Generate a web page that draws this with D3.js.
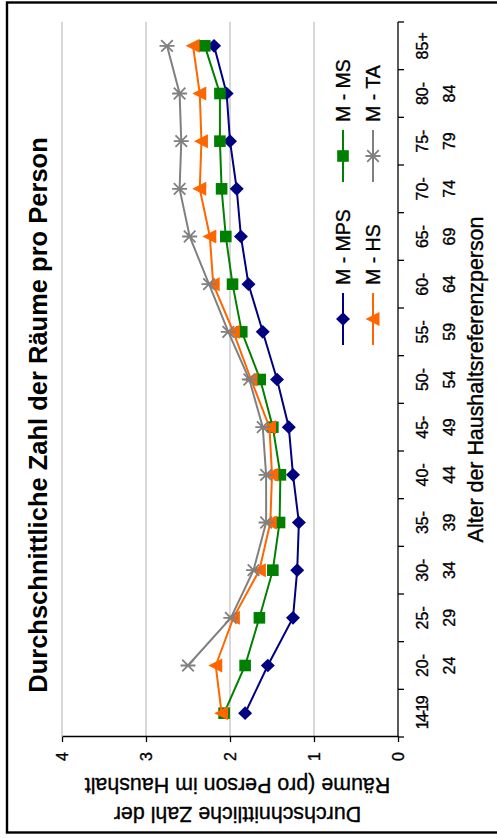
<!DOCTYPE html>
<html>
<head>
<meta charset="utf-8">
<script src="https://cdn.jsdelivr.net/npm/d3@7/dist/d3.min.js"></script>
<style>
  html, body { margin: 0; padding: 0; background: #fff; }
  svg { display: block; }
  text { font-family: Arial, "Liberation Sans", sans-serif; fill: #000; }
  .heavy { stroke: #000; stroke-width: 0.35px; }
</style>
</head>
<body>
<script>
// Age groups of the household reference person (two-line tick labels)
const categories = ["14-19", "20-24", "25-29", "30-34", "35-39", "40-44", "45-49",
                    "50-54", "55-59", "60-64", "65-69", "70-74", "75-79", "80-84", "85+"];
const categoryLabels = [["14-19"], ["20-", "24"], ["25-", "29"], ["30-", "34"], ["35-", "39"],
                        ["40-", "44"], ["45-", "49"], ["50-", "54"], ["55-", "59"], ["60-", "64"],
                        ["65-", "69"], ["70-", "74"], ["75-", "79"], ["80-", "84"], ["85+"]];

// Average number of rooms per person in the household
const seriesNames = ["M - MPS", "M - MS", "M - HS", "M - TA"];
const valuesMPS = [1.82, 1.55, 1.25, 1.20, 1.18, 1.25, 1.30, 1.44, 1.61, 1.78, 1.87, 1.92, 2.00, 2.04, 2.19];
const valuesMS  = [2.07, 1.82, 1.65, 1.49, 1.41, 1.40, 1.49, 1.64, 1.86, 1.97, 2.05, 2.10, 2.12, 2.12, 2.30];
const valuesHS  = [2.10, 2.17, 1.96, 1.65, 1.52, 1.50, 1.53, 1.75, 1.96, 2.20, 2.24, 2.36, 2.34, 2.36, 2.44];
const valuesTA  = [null, 2.50, 1.99, 1.72, 1.57, 1.57, 1.61, 1.77, 2.02, 2.25, 2.48, 2.60, 2.58, 2.60, 2.75];

const valueTicks = [0, 1, 2, 3, 4];

const seriesStyle = [
  { values: valuesMPS, color: "#000080", marker: "diamond" },
  { values: valuesMS,  color: "#008000", marker: "square" },
  { values: valuesHS,  color: "#FF6600", marker: "triangle" },
  { values: valuesTA,  color: "#808080", marker: "star" }
];

const W = 497, H = 838;
// The chart is laid out landscape (H wide, W tall) and turned a quarter turn counter-clockwise.

const svg = d3.select("body").append("svg")
  .attr("width", W).attr("height", H);

const g = svg.append("g").attr("transform", `translate(0,${H}) rotate(-90)`);

// outer frame
g.append("rect")
  .attr("x", 5.5).attr("y", 7).attr("width", 830).attr("height", 520)
  .attr("fill", "none").attr("stroke", "#000").attr("stroke-width", 2.4);

const plot = { left: 101, right: 816, top: 62, bottom: 398 };

const x = d3.scaleBand().domain(categories).range([plot.left, plot.right]);
const y = d3.scaleLinear().domain([0, 4]).range([plot.bottom, plot.top]);

// horizontal gridlines
g.append("g").selectAll("line")
  .data(valueTicks.filter(v => v > 0))
  .join("line")
  .attr("x1", plot.left).attr("x2", plot.right)
  .attr("y1", d => y(d)).attr("y2", d => y(d))
  .attr("stroke", "#b8b8b8").attr("stroke-width", 1.1);

// value axis
const yAxis = d3.axisLeft(y).tickValues(valueTicks).tickSize(5).tickSizeOuter(0).tickPadding(10)
  .tickFormat(d3.format("d"));
const yG = g.append("g").attr("transform", `translate(${plot.left},0)`).call(yAxis);
yG.attr("font-size", null).attr("font-family", null);
yG.select(".domain").attr("stroke", "#000").attr("stroke-width", 1.3);
yG.selectAll(".tick line").attr("stroke", "#000").attr("stroke-width", 1.3);
yG.selectAll(".tick text").attr("class", "heavy").style("font-size", "16px").attr("fill", "#000");

// category axis
const xG = g.append("g").attr("transform", `translate(0,${plot.bottom})`);
xG.append("line").attr("x1", plot.left).attr("x2", plot.right)
  .attr("stroke", "#000").attr("stroke-width", 1.3);
const boundaries = categories.map(c => x(c)).concat([x.range()[1]]);
xG.selectAll("line.tk").data(boundaries).join("line").attr("class", "tk")
  .attr("x1", d => d).attr("x2", d => d).attr("y1", 0).attr("y2", 6)
  .attr("stroke", "#000").attr("stroke-width", 1.3);
const lbl = xG.selectAll("text.cat").data(categories).join("text").attr("class", "cat heavy")
  .attr("text-anchor", "middle").style("font-size", "16px")
  .attr("transform", d => `translate(${x(d) + x.bandwidth() / 2},0)`);
lbl.each(function (d, i) {
  const t = d3.select(this);
  categoryLabels[i].forEach((s, j) => {
    const ts = t.append("tspan").attr("x", 0).attr("y", 30 + j * 27).text(s);
    if (s === "14-19") ts.attr("letter-spacing", -1.8);
  });
});

// axis titles
g.append("text").attr("class", "heavy").attr("x", (plot.left + plot.right) / 2).attr("y", 483)
  .attr("text-anchor", "middle").style("font-size", "21.4px")
  .text("Alter der Haushaltsreferenzperson");

const yt = g.append("text").attr("class", "heavy").attr("transform", "translate(0,237.5) rotate(-90)")
  .attr("text-anchor", "middle").style("font-size", "21.4px");
yt.append("tspan").attr("x", 0).attr("y", 31).text("Durchschnittliche Zahl der");
yt.append("tspan").attr("x", 0).attr("y", 60).text("Räume (pro Person im Haushalt");

// chart title
g.append("text").attr("x", 423).attr("y", 47)
  .attr("text-anchor", "middle").style("font-size", "25.5px").attr("font-weight", "bold")
  .text("Durchschnittliche Zahl der Räume pro Person");

// marker drawing
function drawMarker(sel, type, color) {
  if (type === "diamond") {
    sel.append("path").attr("d", "M0,-7L6.8,0L0,7L-6.8,0Z").attr("fill", color);
  } else if (type === "square") {
    sel.append("rect").attr("x", -5.8).attr("y", -5.8).attr("width", 11.6).attr("height", 11.6).attr("fill", color);
  } else if (type === "triangle") {
    sel.append("path").attr("d", "M0,-7.5L7,6.5L-7,6.5Z").attr("fill", color);
  } else if (type === "star") {
    sel.append("path").attr("d", "M-5.8,-5.8L5.8,5.8M-5.8,5.8L5.8,-5.8M0,-7.5L0,7.5")
      .attr("stroke", color).attr("stroke-width", 1.8).attr("fill", "none");
  }
}

// series lines and markers
seriesStyle.forEach(s => {
  const pts = s.values.map((v, i) => ({ c: categories[i], v })).filter(d => d.v != null);
  const line = d3.line().x(d => x(d.c) + x.bandwidth() / 2).y(d => y(d.v));
  g.append("path").datum(pts).attr("d", line)
    .attr("fill", "none").attr("stroke", s.color).attr("stroke-width", 2);
  g.append("g").selectAll("g").data(pts).join("g")
    .attr("transform", d => `translate(${x(d.c) + x.bandwidth() / 2},${y(d.v)})`)
    .each(function () { drawMarker(d3.select(this), s.marker, s.color); });
});

// legend
const legendPos = [
  { x: 493, y: 343 }, { x: 656, y: 343 },
  { x: 493, y: 373 }, { x: 656, y: 373 }
];
seriesStyle.forEach((s, i) => {
  const p = legendPos[i];
  const lg = g.append("g").attr("transform", `translate(${p.x},${p.y})`);
  lg.append("line").attr("x1", 0).attr("x2", 52).attr("stroke", s.color).attr("stroke-width", 2);
  const m = lg.append("g").attr("transform", "translate(26,0)");
  drawMarker(m, s.marker, s.color);
  lg.append("text").attr("class", "heavy").attr("x", 60).attr("y", 0).attr("dy", "0.36em")
    .style("font-size", "19.5px").text(seriesNames[i]);
});
</script>
</body>
</html>
